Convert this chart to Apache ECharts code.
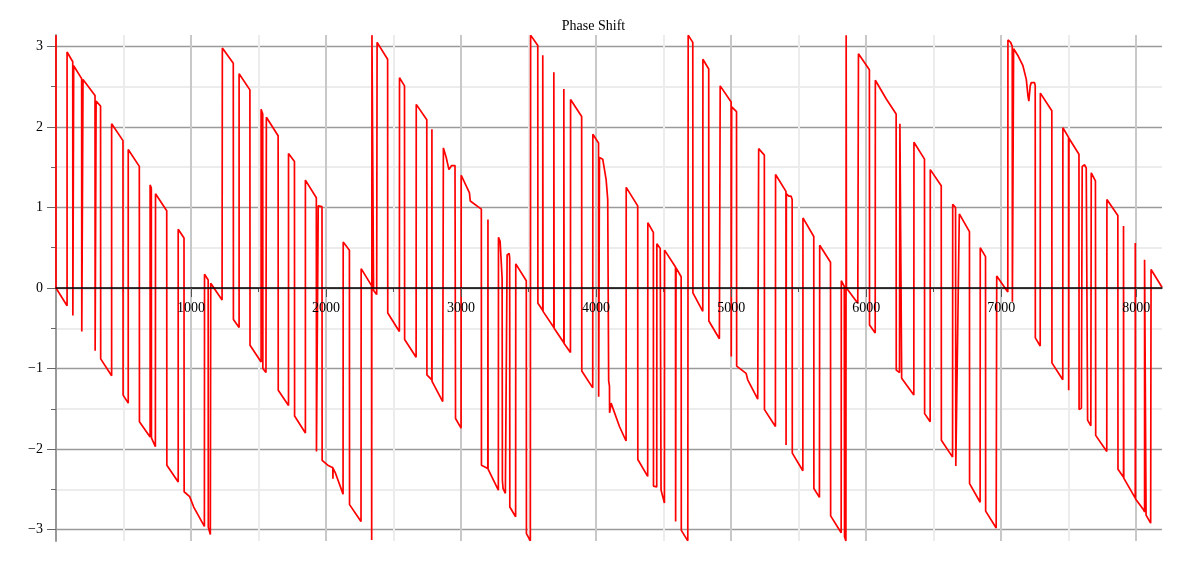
<!DOCTYPE html>
<html><head><meta charset="utf-8">
<script src="https://cdn.jsdelivr.net/npm/echarts@6/dist/echarts.min.js"></script>
<style>html,body{margin:0;padding:0;background:#fff}#c{width:1187px;height:567px}</style>
</head><body><div id="c"></div>
<script>
const chartTitle = 'Phase Shift';
const xMajorTicks = [1000, 2000, 3000, 4000, 5000, 6000, 7000, 8000];
const xMinorTicks = [500, 1500, 2500, 3500, 4500, 5500, 6500, 7500];
const yMajorTicks = [-3, -2, -1, 0, 1, 2, 3];
const yMinorTicks = [-2.5, -1.5, -0.5, 0.5, 1.5, 2.5];
const xMax = 8191;

// [sample index, phase (rad)]
const phaseBlock1 = [
  [0,3.14],[0,0.0],[82,-0.22],[82,2.93],[124,2.81],[125,-0.34],[129,-0.35],[131,2.76],[190,2.60],[191,-0.54],[198,-0.56],[200,2.59],
  [289,2.39],[290,-0.78],[296,-0.80],[297,2.32],[330,2.26],[331,-0.88],[412,-1.09],[412,2.04],[496,1.83],[497,-1.33],[535,-1.43],[535,1.72],
  [617,1.51],[618,-1.66],[697,-1.85],[697,1.28],[706,1.24],[707,-1.86],[736,-1.97],[737,1.17],[820,0.96],[821,-2.20],[905,-2.41],[905,0.73],
  [948,0.62],[949,-2.53],[990,-2.59],[1020,-2.72],[1099,-2.96],[1100,0.17],[1127,0.10],[1128,-2.97],[1143,-3.06],[1146,0.06],[1230,-0.15],
  [1232,2.98],[1313,2.79],[1314,-0.39],[1356,-0.49],[1356,2.66],[1436,2.46],[1437,-0.71],[1519,-0.92],[1519,2.22],[1531,2.16],[1532,-1.0],
  [1555,-1.05],[1558,2.12],[1645,1.89],[1646,-1.27],[1722,-1.46],[1722,1.67],[1766,1.57],[1767,-1.59],[1847,-1.80],[1847,1.34],[1928,1.12],
  [1929,-2.03],[1941,-2.04],[1942,1.02],[1970,1.01],[1971,-2.14],[2013,-2.20],[2035,-2.22],[2050,-2.23],[2051,-2.37],[2052,-2.24],[2070,-2.30],
  [2126,-2.56],[2127,0.57],[2173,0.47],[2174,-2.69],[2259,-2.90],[2260,0.24],[2337,0.03],[2338,-3.13],[2340,3.14],[2350,3.12],[2352,-0.03],
  [2375,-0.08],[2378,3.05],[2456,2.84]
];
const phaseBlock2 = [
  [2457,-0.31],[2543,-0.54],[2544,2.61],[2581,2.51],[2582,-0.64],[2667,-0.86],[2668,2.28],[2746,2.09],[2747,-1.08],[2783,-1.14],[2784,1.97],
  [2785,-1.16],[2864,-1.41],[2869,1.74],[2890,1.62],[2910,1.47],[2930,1.52],[2955,1.52],[2958,1.50],[2959,-1.62],[3000,-1.74],[3001,1.40],
  [3062,1.18],[3068,1.08],[3150,0.98],[3151,-2.20],[3198,-2.24],[3199,0.85],[3200,-2.25],[3276,-2.51],[3277,0.63],[3289,0.58],[3304,0.12],
  [3306,-2.39],[3311,-2.49],[3328,-2.55],[3341,0.41],[3356,0.43],[3360,0.37],[3361,-2.72],[3404,-2.84],[3405,0.30],[3483,0.09],[3484,-3.05],
  [3513,-3.14],[3515,3.14],[3568,3.01],[3569,-0.19],[3605,-0.28],[3605,2.89],[3607,-0.29],[3687,-0.49],[3687,2.68],[3689,-0.50],[3761,-0.68],
  [3761,2.47],[3763,-0.69],[3810,-0.80],[3811,2.34],[3893,2.13],[3894,-1.03],[3975,-1.24],[3976,1.91],[4018,1.80],[4019,-1.35],[4022,-1.36],
  [4025,1.62],[4049,1.60],[4074,1.35],[4086,1.10],[4093,-1.15],[4099,-1.22],[4100,-1.55],[4111,-1.43],[4173,-1.72],[4222,-1.90],[4223,1.25],
  [4308,1.02],[4309,-2.13],[4382,-2.34],[4383,0.81],[4424,0.69],[4425,-2.46],[4449,-2.47],[4450,0.55],[4475,0.49],[4481,-2.51],[4506,-2.67],
  [4507,0.47],[4588,0.26],[4589,-2.90],[4592,0.25],[4630,0.14],[4631,-3.01],[4679,-3.14]
];
const phaseBlock3 = [
  [4682,3.14],[4716,3.05],[4717,-0.06],[4790,-0.29],[4791,2.84],[4834,2.72],[4835,-0.41],[4913,-0.63],[4919,2.51],[5000,2.31],[5001,-0.85],
  [5004,2.25],[5040,2.19],[5041,-0.97],[5111,-1.06],[5123,-1.14],[5197,-1.38],[5204,1.73],[5246,1.65],[5247,-1.51],[5328,-1.72],[5329,1.41],
  [5406,1.20],[5407,-1.95],[5409,1.17],[5427,1.14],[5444,1.14],[5452,1.10],[5453,-2.05],[5531,-2.27],[5532,0.87],[5612,0.64],[5613,-2.49],
  [5654,-2.60],[5656,0.53],[5736,0.32],[5737,-2.83],[5815,-3.04],[5816,0.09],[5838,0.02],[5840,-3.09],[5850,-3.14],[5852,3.14],[5854,0.0],
  [5938,-0.19],[5943,2.91],[6024,2.71],[6025,-0.46],[6067,-0.56],[6068,2.58],[6148,2.35],[6222,2.16],[6223,-1.02],[6247,-1.05],[6250,2.04],
  [6262,2.03],[6263,-1.12],[6353,-1.33],[6354,1.81],[6432,1.60],[6433,-1.56],[6474,-1.66],[6475,1.47],[6556,1.27],[6557,-1.89],[6640,-2.10],
  [6641,1.04],[6662,1.00],[6664,-2.21],[6672,-2.22],[6690,0.92],[6765,0.70],[6766,-2.43],[6844,-2.66],[6845,0.50],[6884,0.39],[6885,-2.77],
  [6963,-2.98],[6967,0.15],[7049,-0.05]
];
const phaseBlock4 = [
  [7050,3.08],[7070,3.05],[7082,3.00],[7083,-0.17],[7088,-0.18],[7092,2.97],[7126,2.88],[7161,2.76],[7186,2.59],[7198,2.39],[7205,2.32],
  [7215,2.51],[7223,2.55],[7247,2.55],[7252,2.51],[7253,-0.62],[7289,-0.72],[7290,2.42],[7375,2.20],[7376,-0.93],[7456,-1.14],[7457,1.99],
  [7499,1.87],[7500,-1.27],[7502,1.86],[7576,1.66],[7577,-1.51],[7594,-1.49],[7600,1.51],[7618,1.53],[7630,1.49],[7640,-1.64],[7664,-1.71],
  [7667,1.43],[7698,1.33],[7700,-1.83],[7782,-2.03],[7783,1.10],[7864,0.90],[7865,-2.25],[7906,-2.35],[7906,0.77],[7908,-2.36],[7993,-2.61],
  [7993,0.56],[7995,-2.62],[8049,-2.74],[8062,-2.78],[8062,0.35],[8072,0.33],[8073,-2.82],[8107,-2.92],[8110,0.23],[8191,0.01]
];

const phaseData = phaseBlock1.concat(phaseBlock2, phaseBlock3, phaseBlock4);
const serif = '"Liberation Serif", "DejaVu Serif", serif';
const fmtY = v => (v < 0 ? '\u2212' + Math.abs(v) : String(v));
const fmtX = v => String(v);

const W = 1187, H = 567;
const gridTop = 35, gridBottom = 26;
// offset that moves the bottom x axis up to the y = 0 line (grid is symmetric, -pi..pi)
const xAxisOffset = -((H - gridTop - gridBottom) / 2);

const chart = echarts.init(document.getElementById('c'), null, {renderer: 'canvas'});
chart.setOption({
  animation: false,
  backgroundColor: '#ffffff',
  title: {
    text: chartTitle, left: 'center', top: 14,
    textStyle: {fontFamily: serif, fontSize: 14, fontWeight: 'normal', color: '#000'}
  },
  grid: {left: 56, right: 25, top: gridTop, bottom: gridBottom, containLabel: false},
  xAxis: [
    { // axis line, major ticks and labels, drawn above the curve
      type: 'value', min: 0, max: xMax, position: 'bottom', offset: xAxisOffset, z: 10,
      axisLine: {show: true, onZero: false, lineStyle: {color: '#000', width: 1.5}},
      axisTick: {show: true, customValues: xMajorTicks, length: 9, lineStyle: {color: '#555', width: 1}},
      axisLabel: {show: true, customValues: xMajorTicks, formatter: fmtX, margin: 13, fontFamily: serif, fontSize: 14, color: '#000'},
      splitLine: {show: false}
    },
    { // minor ticks and minor grid
      type: 'value', min: 0, max: xMax, position: 'bottom', offset: xAxisOffset,
      axisLine: {show: false, onZero: false},
      axisTick: {show: true, customValues: xMinorTicks, length: 4, lineStyle: {color: '#555', width: 1}},
      axisLabel: {show: false},
      splitLine: {show: true, lineStyle: {color: '#ececec', width: 2}}
    },
    { // major vertical grid, below the curve
      type: 'value', min: 0, max: xMax, position: 'bottom', offset: xAxisOffset,
      axisLine: {show: false, onZero: false},
      axisTick: {show: false, customValues: xMajorTicks},
      axisLabel: {show: false},
      splitLine: {show: true, lineStyle: {color: '#c8c8c8', width: 2}}
    }
  ],
  yAxis: [
    {
      type: 'value', min: -Math.PI, max: Math.PI, position: 'left',
      axisLine: {show: true, onZero: false, lineStyle: {color: '#999', width: 2}},
      axisTick: {show: true, customValues: yMajorTicks, length: 9, lineStyle: {color: '#666', width: 1}},
      axisLabel: {show: true, customValues: yMajorTicks, margin: 13, formatter: fmtY, fontFamily: serif, fontSize: 14, color: '#000'},
      splitLine: {show: true, lineStyle: {color: '#9a9a9a', width: 1.3}}
    },
    {
      type: 'value', min: -Math.PI, max: Math.PI, position: 'left',
      axisLine: {show: false, onZero: false},
      axisTick: {show: true, customValues: yMinorTicks, length: 5, lineStyle: {color: '#666', width: 1}},
      axisLabel: {show: false},
      splitLine: {show: true, lineStyle: {color: '#e6e6e6', width: 1.5}}
    }
  ],
  series: [{
    type: 'line', xAxisIndex: 0, yAxisIndex: 0, data: phaseData,
    showSymbol: false, symbol: 'none', sampling: null, silent: true, clip: true,
    lineStyle: {color: '#ff0000', width: 1.7}, z: 5
  }]
});
</script>
</body></html>
